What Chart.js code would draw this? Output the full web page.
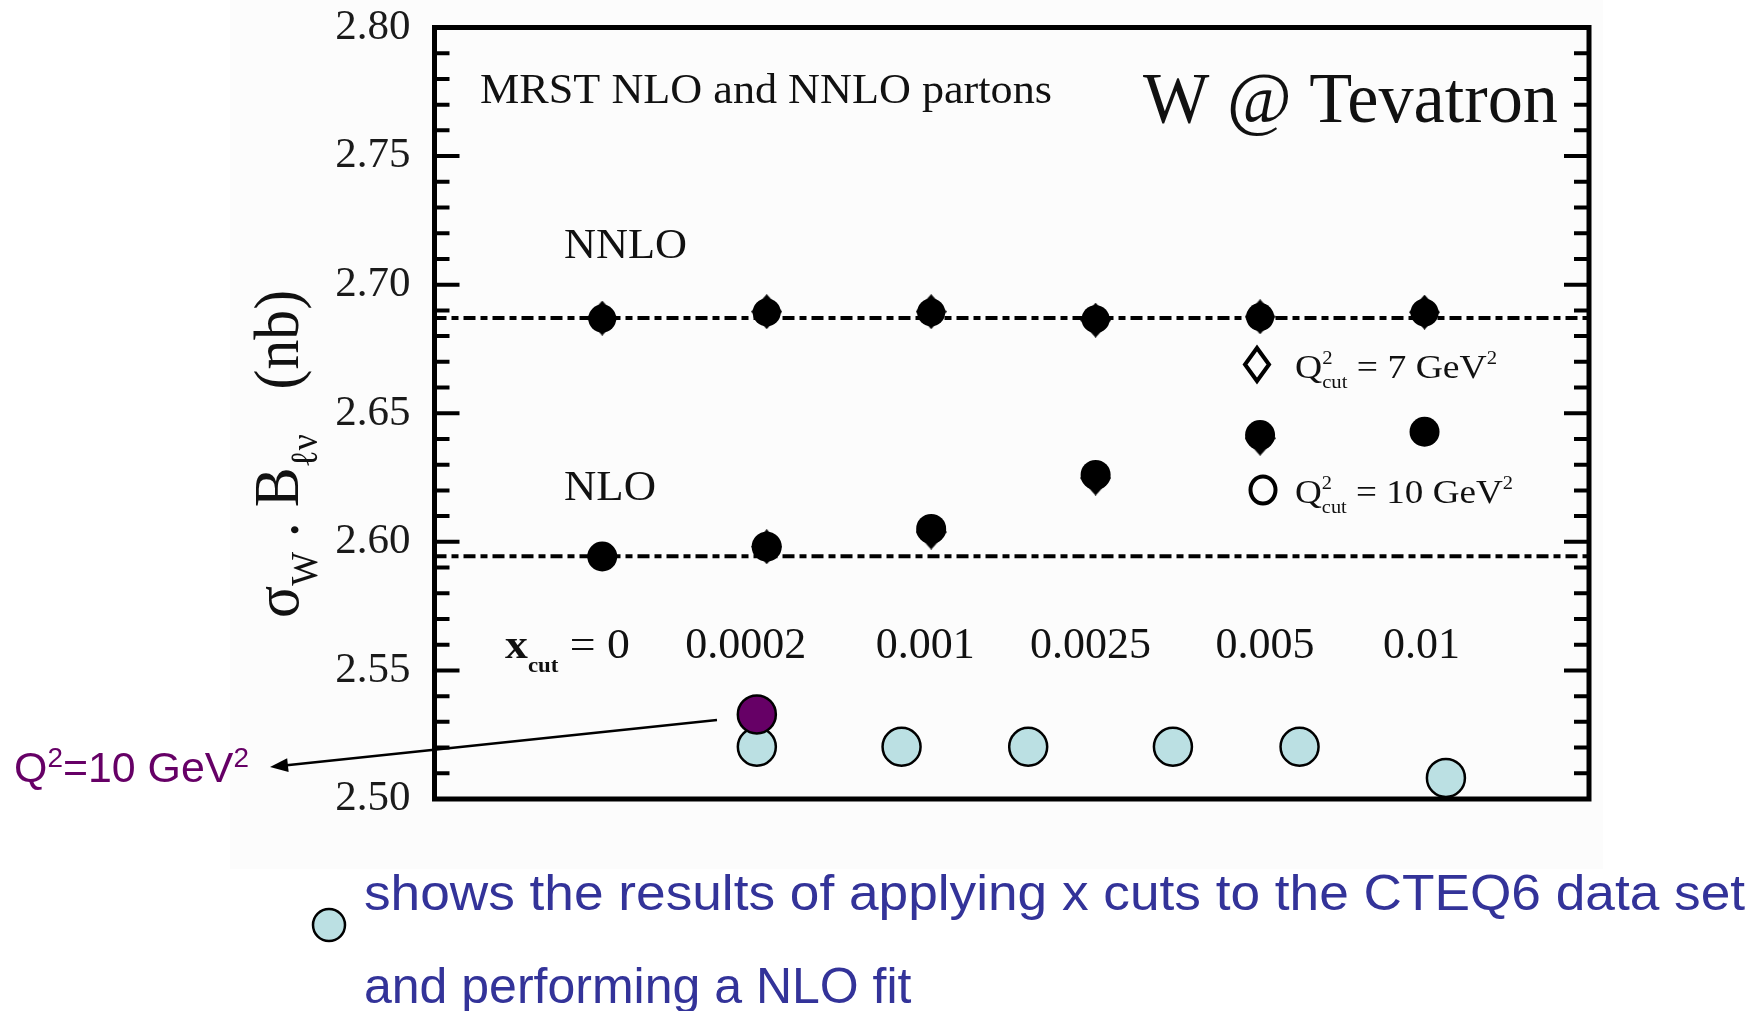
<!DOCTYPE html>
<html>
<head>
<meta charset="utf-8">
<title>W @ Tevatron</title>
<script src="https://cdn.jsdelivr.net/npm/chart.js@4.4.1/dist/chart.umd.min.js"></script>
<style>
html, body { margin: 0; padding: 0; background: #fff; }
#wrap { width: 1758px; height: 1011px; }
</style>
</head>
<body>
<div id="wrap"><canvas id="chart" width="1758" height="1011"></canvas></div>
<script>
// values
var xcutLabels = ['0', '0.0002', '0.001', '0.0025', '0.005', '0.01'];
var nnloDiamond = [2.6870, 2.6895, 2.6895, 2.6862, 2.6875, 2.6893];
var nnloCircle = [2.6868, 2.6892, 2.6892, 2.6866, 2.6874, 2.6891];
var nloDiamond = [null, 2.5981, 2.6038, 2.6248, 2.6403, null];
var nloCircle = [2.5943, 2.5981, 2.6050, 2.6260, 2.6415, 2.6428];
var nnloLevel = [2.6870];
var nloLevel = [2.5944];
// CTEQ6 x-cut fits, drawn on top of the figure (x in cut-index units)
var cteqX = [0.94, 1.82, 2.59, 3.47, 4.24, 5.13];
var cteqY = [2.5203, 2.5203, 2.5203, 2.5203, 2.5203, 2.5082];
var q10X = [0.94];
var q10Y = [2.5329];
var yTicks = [2.50, 2.55, 2.60, 2.65, 2.70, 2.75, 2.80];

var xMin = -1.02, xMax = 6.0;
var AREA = { left: 434.5, top: 27.5, right: 1589, bottom: 799 };
var SERIF = "'Liberation Serif', 'Times New Roman', serif";
var SANS = "'Liberation Sans', Arial, sans-serif";

function pts(ys, xs) {
    return ys.map(function (v, i) { return { x: xs ? xs[i] : i, y: v }; });
}
function level(v) {
    return [{ x: xMin, y: v[0] }, { x: xMax, y: v[0] }];
}

// tall diamond marker (the figure is stretched vertically)
function diamond(w, h) {
    var c = document.createElement('canvas');
    c.width = w;
    c.height = h;
    var g = c.getContext('2d');
    g.fillStyle = '#000';
    g.beginPath();
    g.moveTo(w / 2, 0); g.lineTo(w, h / 2); g.lineTo(w / 2, h); g.lineTo(0, h / 2);
    g.closePath();
    g.fill();
    return c;
}
var diamondMark = diamond(31, 35);

// text with sub/superscripts, squeezed to a given width
function drawRuns(ctx, x, y, runs, o) {
    var cur = 0, prev = 0, items = [];
    runs.forEach(function (r) {
        var font = (r.b ? 'bold ' : '') + (o.size * (r.s || 1)) + 'px ' + o.family;
        ctx.font = font;
        var start = r.back ? prev : cur;
        items.push({ t: r.t, font: font, x: start, dy: (r.dy || 0) * o.size });
        prev = start;
        cur = Math.max(cur, start + ctx.measureText(r.t).width);
    });
    var sx = o.width ? o.width / cur : 1;
    var x0 = x;
    if (o.align === 'center') x0 = x - cur * sx / 2;
    if (o.align === 'right') x0 = x - cur * sx;
    ctx.save();
    ctx.translate(o.rotate ? x : x0, y);
    if (o.rotate) ctx.rotate(o.rotate);
    ctx.scale(sx, 1);
    ctx.fillStyle = o.color || '#111';
    ctx.textAlign = 'left';
    ctx.textBaseline = 'alphabetic';
    items.forEach(function (it) {
        ctx.font = it.font;
        ctx.fillText(it.t, it.x, it.dy);
    });
    ctx.restore();
}

var SUP = function (t, s) { return { t: t, s: s || 0.55, dy: -0.42 }; };
var SUB = function (t, s, back) { return { t: t, s: s || 0.55, dy: 0.3, back: !!back }; };

// Background of the pasted figure
var paper = {
    id: 'paper',
    beforeDraw: function (chart) {
        var ctx = chart.ctx;
        ctx.save();
        ctx.fillStyle = '#ffffff';
        ctx.fillRect(0, 0, chart.width, chart.height);
        ctx.fillStyle = '#fcfcfc';
        ctx.fillRect(230, 0, 1373, 869);
        ctx.restore();
    }
};

// Frame and inward ticks
var frame = {
    id: 'frame',
    afterDatasetsDraw: function (chart) {
        var ctx = chart.ctx, a = chart.chartArea, ys = chart.scales.y;
        ctx.save();
        ctx.strokeStyle = '#000';
        ctx.lineWidth = 4;
        for (var k = 0; k <= 30; k++) {
            var y = ys.getPixelForValue(2.5 + k * 0.01);
            var len = k % 5 === 0 ? 25 : 15;
            ctx.beginPath();
            ctx.moveTo(a.left, y); ctx.lineTo(a.left + len, y);
            ctx.moveTo(a.right, y); ctx.lineTo(a.right - len, y);
            ctx.stroke();
        }
        ctx.lineWidth = 5;
        ctx.strokeRect(a.left, a.top, a.right - a.left, a.bottom - a.top);
        ctx.restore();
    }
};

// Labels, legend, arrow, caption
var notes = {
    id: 'notes',
    afterDraw: function (chart) {
        var ctx = chart.ctx, xs = chart.scales.x;

        drawRuns(ctx, 480, 103, [{ t: 'MRST NLO and NNLO partons' }], { family: SERIF, size: 43, width: 572 });
        drawRuns(ctx, 1143, 122, [{ t: 'W @ Tevatron' }], { family: SERIF, size: 71, width: 415 });
        drawRuns(ctx, 564, 258, [{ t: 'NNLO' }], { family: SERIF, size: 43, width: 123 });
        drawRuns(ctx, 564, 500, [{ t: 'NLO' }], { family: SERIF, size: 43, width: 92 });

        // x cut values
        drawRuns(ctx, 505, 658, [{ t: 'x', b: true }, { t: 'cut', s: 0.5, dy: 0.32, b: true },
            { t: ' = ' }, { t: xcutLabels[0] }], { family: SERIF, size: 43, width: 125 });
        var dx = [0, -21, -6, -5, 5, -3];
        for (var i = 1; i < xcutLabels.length; i++) {
            drawRuns(ctx, xs.getPixelForValue(i) + dx[i], 658, [{ t: xcutLabels[i] }],
                { family: SERIF, size: 44, align: 'center' });
        }

        // legend inside the frame
        ctx.save();
        ctx.strokeStyle = '#000';
        ctx.lineWidth = 4;
        ctx.beginPath();
        ctx.moveTo(1257, 348); ctx.lineTo(1269, 364.5); ctx.lineTo(1257, 381); ctx.lineTo(1245, 364.5);
        ctx.closePath();
        ctx.stroke();
        ctx.beginPath();
        ctx.ellipse(1263, 490, 12.5, 13.5, 0, 0, Math.PI * 2);
        ctx.stroke();
        ctx.restore();
        drawRuns(ctx, 1295, 378, [{ t: 'Q' }, SUP('2'), SUB('cut', 0.55, true), { t: ' = 7 GeV' }, SUP('2')],
            { family: SERIF, size: 34, width: 202 });
        drawRuns(ctx, 1295, 503, [{ t: 'Q' }, SUP('2'), SUB('cut', 0.55, true), { t: ' = 10 GeV' }, SUP('2')],
            { family: SERIF, size: 34, width: 218 });

        // y axis title
        drawRuns(ctx, 298, 618, [{ t: 'σ' }, SUB('W', 0.6), { t: ' . B' }, SUB('ℓν', 0.6), { t: '   (nb)' }],
            { family: SERIF, size: 64, width: 328, rotate: -Math.PI / 2 });

        // arrow to the Q2 = 10 point
        ctx.save();
        ctx.strokeStyle = '#000';
        ctx.fillStyle = '#000';
        ctx.lineWidth = 2.5;
        var x1 = 717, y1 = 720, x2 = 270, y2 = 767;
        var ang = Math.atan2(y2 - y1, x2 - x1);
        ctx.beginPath();
        ctx.moveTo(x1, y1);
        ctx.lineTo(x2 - 12 * Math.cos(ang), y2 - 12 * Math.sin(ang));
        ctx.stroke();
        ctx.beginPath();
        ctx.moveTo(x2, y2);
        ctx.lineTo(x2 - 18 * Math.cos(ang) + 7 * Math.sin(ang), y2 - 18 * Math.sin(ang) - 7 * Math.cos(ang));
        ctx.lineTo(x2 - 18 * Math.cos(ang) - 7 * Math.sin(ang), y2 - 18 * Math.sin(ang) + 7 * Math.cos(ang));
        ctx.closePath();
        ctx.fill();
        ctx.restore();
        drawRuns(ctx, 14, 782, [{ t: 'Q' }, { t: '2', s: 0.65, dy: -0.36 }, { t: '=10 GeV' }, { t: '2', s: 0.65, dy: -0.36 }],
            { family: SANS, size: 42, width: 235, color: '#660066' });

        // caption
        ctx.save();
        ctx.fillStyle = '#bbe0e3';
        ctx.strokeStyle = '#000';
        ctx.lineWidth = 2.5;
        ctx.beginPath();
        ctx.arc(329, 925, 16, 0, Math.PI * 2);
        ctx.fill();
        ctx.stroke();
        ctx.restore();
        drawRuns(ctx, 364, 910, [{ t: 'shows the results of applying x cuts to the CTEQ6 data set' }],
            { family: SANS, size: 50, width: 1381, color: '#333399' });
        drawRuns(ctx, 364, 1003, [{ t: 'and performing a NLO fit' }],
            { family: SANS, size: 50, width: 0, color: '#333399' });
    }
};

var ctx = document.getElementById('chart').getContext('2d');
var chart = new Chart(ctx, {
    type: 'scatter',
    data: {
        datasets: [{
            label: 'Q2 = 10 GeV2',
            data: pts(q10Y, q10X),
            pointStyle: 'circle',
            pointRadius: 19,
            backgroundColor: '#660066',
            borderColor: '#000',
            borderWidth: 2.5,
            clip: false,
            order: 1
        }, {
            label: 'CTEQ6 x cuts',
            data: pts(cteqY, cteqX),
            pointStyle: 'circle',
            pointRadius: 19,
            backgroundColor: '#bbe0e3',
            borderColor: '#000',
            borderWidth: 2.5,
            clip: false,
            order: 2
        }, {
            label: 'NNLO Q2cut=7',
            data: pts(nnloDiamond),
            pointStyle: diamondMark,
            order: 3
        }, {
            label: 'NNLO Q2cut=10',
            data: pts(nnloCircle),
            pointStyle: 'circle',
            pointRadius: 14,
            backgroundColor: '#000',
            borderColor: '#000',
            borderWidth: 0,
            order: 3
        }, {
            label: 'NLO Q2cut=7',
            data: pts(nloDiamond),
            pointStyle: diamondMark,
            order: 3
        }, {
            label: 'NLO Q2cut=10',
            data: pts(nloCircle),
            pointStyle: 'circle',
            pointRadius: 15,
            backgroundColor: '#000',
            borderColor: '#000',
            borderWidth: 0,
            order: 3
        }, {
            label: 'NNLO',
            data: level(nnloLevel),
            showLine: true,
            pointRadius: 0,
            borderColor: '#000',
            borderWidth: 4,
            borderDash: [12, 5, 7, 5],
            order: 10
        }, {
            label: 'NLO',
            data: level(nloLevel),
            showLine: true,
            pointRadius: 0,
            borderColor: '#000',
            borderWidth: 4,
            borderDash: [12, 5, 7, 5],
            order: 10
        }]
    },
    options: {
        responsive: false,
        devicePixelRatio: 1,
        animation: false,
        events: [],
        layout: { autoPadding: false, padding: { left: 0, top: AREA.top, right: 1758 - AREA.right, bottom: 1011 - AREA.bottom } },
        plugins: {
            legend: { display: false },
            tooltip: { enabled: false }
        },
        scales: {
            x: { type: 'linear', min: xMin, max: xMax, display: false },
            y: {
                min: 2.5,
                max: 2.8,
                afterBuildTicks: function (s) {
                    s.ticks = yTicks.map(function (v) { return { value: v }; });
                },
                afterFit: function (s) {
                    s.width = AREA.left;
                    s.paddingTop = 0;
                    s.paddingBottom = 0;
                },
                ticks: {
                    callback: function (v) { return Number(v).toFixed(2); },
                    font: { family: SERIF, size: 43 },
                    color: '#1a1a1a',
                    padding: 24
                },
                grid: { display: false, drawTicks: false },
                border: { display: false }
            }
        }
    },
    plugins: [paper, frame, notes]
});

// nudge the padding so the plot frame lands where it is in the figure
var pad = chart.config.options.layout.padding;
var a = chart.chartArea;
pad.top += AREA.top - a.top;
pad.bottom += a.bottom - AREA.bottom;
pad.right += a.right - AREA.right;
chart.update();
</script>
</body>
</html>
